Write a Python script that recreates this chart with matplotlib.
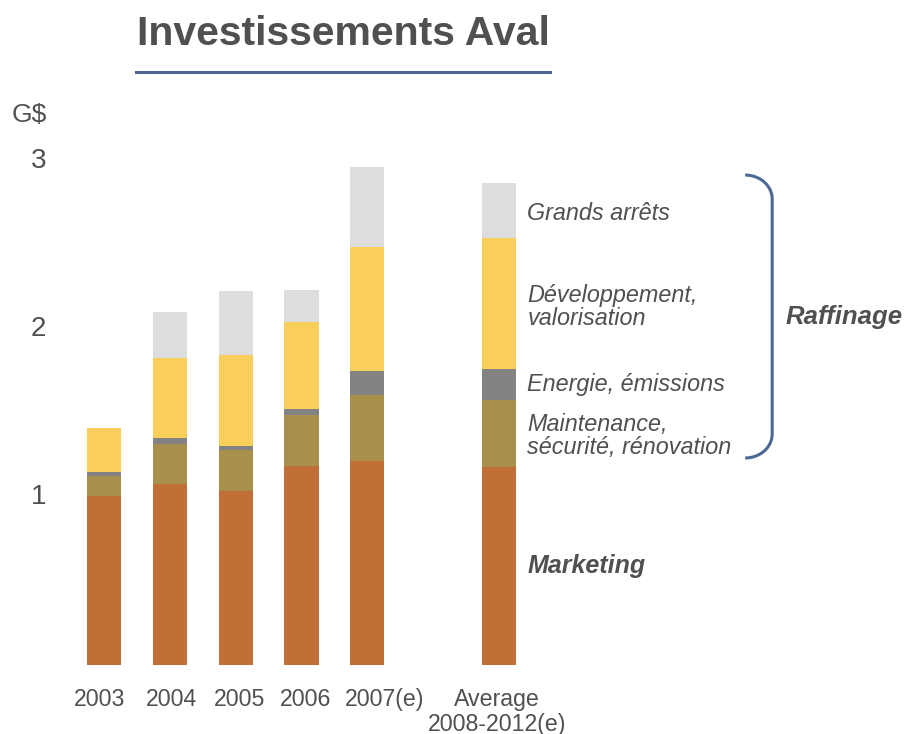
import numpy as np
import matplotlib
matplotlib.use("Agg")
import matplotlib.pyplot as plt
import matplotlib.transforms as mtransforms
from matplotlib.lines import Line2D

plt.rcParams['font.family'] = ['Liberation Sans', 'DejaVu Sans']

# ---- data (G$) ----
categories = ['2003', '2004', '2005', '2006', '2007(e)', 'Average\n2008-2012(e)']
positions = [0, 1, 2, 3, 4, 6]
marketing = [1.01, 1.08, 1.04, 1.19, 1.22, 1.18]
maintenance = [0.12, 0.24, 0.245, 0.30, 0.39, 0.40]
energie = [0.025, 0.035, 0.025, 0.04, 0.145, 0.19]
developpement = [0.26, 0.48, 0.54, 0.52, 0.74, 0.78]
grands_arrets = [0.0, 0.27, 0.38, 0.19, 0.48, 0.33]

series = [marketing, maintenance, energie, developpement, grands_arrets]
series_labels = ['Marketing', 'Maintenance,\nsécurité, rénovation', 'Energie, émissions',
                 'Développement,\nvalorisation', 'Grands arrêts']
colors = ['#C07036', '#A98F4C', '#838383', '#FACE5A', '#DDDDDD']

y_ticks = [1, 2, 3]
y_tick_labels = ['1', '2', '3']

# layout tweaks (pixels): horizontal nudge of category labels, vertical nudge of segment labels
cat_label_dx = [-4, 1.5, 3.5, 4.5, 17, -2]
seg_label_dy = [0, 2, 0, 4, 3]

text_col = '#505050'
accent = '#4C6894'

W, H = 906, 734
fig = plt.figure(figsize=(W / 100, H / 100), dpi=100)

# axes frame in pixels
ax_l, ax_r, ax_b, ax_t = 60, 906, 665, 90
ax = fig.add_axes([ax_l / W, (H - ax_b) / H, (ax_r - ax_l) / W, (ax_b - ax_t) / H])

px_per_x = 65.83
px_per_y = 167.5
x0_px = 104
ax.set_xlim((ax_l - x0_px) / px_per_x, (ax_r - x0_px) / px_per_x)
ax.set_ylim(0, (ax_b - ax_t) / px_per_y)

bar_w = 0.52
bottom = np.zeros(len(positions))
for vals, col in zip(series, colors):
    ax.bar(positions, vals, width=bar_w, bottom=bottom, color=col, linewidth=0)
    bottom += np.array(vals)

for s in ax.spines.values():
    s.set_visible(False)

ax.set_yticks(y_ticks)
ax.set_yticklabels(y_tick_labels, fontsize=20, color=text_col)
ax.tick_params(axis='y', length=0, pad=10)
up = mtransforms.ScaledTranslation(0, 4 / 100, fig.dpi_scale_trans)
for lbl in ax.get_yticklabels():
    lbl.set_transform(lbl.get_transform() + up)

ax.set_xticks([])
for pos, cat, dx in zip(positions, categories, cat_label_dx):
    ax.text(pos + dx / px_per_x, -23 / px_per_y, cat, ha='center', va='top',
            fontsize=16.7, color=text_col, linespacing=1.1, clip_on=False)

# segment labels beside the average bar
avg = -1
label_x = positions[avg] + bar_w / 2 + 0.17
cum = 0.0
for i, (vals, lab, dy) in enumerate(zip(series, series_labels, seg_label_dy)):
    mid = cum + vals[avg] / 2 - dy / px_per_y
    cum += vals[avg]
    if i == 0:
        ax.text(label_x, mid, lab, ha='left', va='center', fontsize=18,
                fontweight='bold', fontstyle='italic', color=text_col)
    else:
        ax.text(label_x, mid, lab, ha='left', va='center', fontsize=16.8,
                fontstyle='italic', color=text_col, linespacing=1.0)

# brace grouping the refining components
br_top = cum + 0.045
br_bot = marketing[avg] + 0.056
br_x0 = positions[avg] + 3.74
rx = 27 / px_per_x
ry = 24 / px_per_y
t = np.linspace(0, np.pi / 2, 40)
top_x = br_x0 + rx * np.sin(t)
top_y = br_top - ry * (1 - np.cos(t))
bot_x = top_x[::-1]
bot_y = br_bot + ry * (1 - np.cos(t[::-1]))
bx = np.concatenate([top_x, bot_x])
by = np.concatenate([top_y, bot_y])
ax.plot(bx, by, color=accent, lw=2.2, solid_capstyle='butt', clip_on=False)
ax.text(br_x0 + rx + 0.2, (br_top + br_bot) / 2, 'Raffinage', ha='left', va='center',
        fontsize=18.5, fontweight='bold', fontstyle='italic', color=text_col)

# unit label
fig.text(12 / W, 1 - 115 / H, 'G$', ha='left', va='center', fontsize=19, color=text_col)

# title with underline
fig.text(343 / W, 1 - 45 / H, 'Investissements Aval', ha='center', va='baseline',
         fontsize=29.5, fontweight='bold', color=text_col)
fig.add_artist(Line2D([136 / W, 550 / W], [1 - 72 / H, 1 - 72 / H],
                      transform=fig.transFigure, color=accent, lw=2.2))

fig.savefig('out.png', dpi=100)
